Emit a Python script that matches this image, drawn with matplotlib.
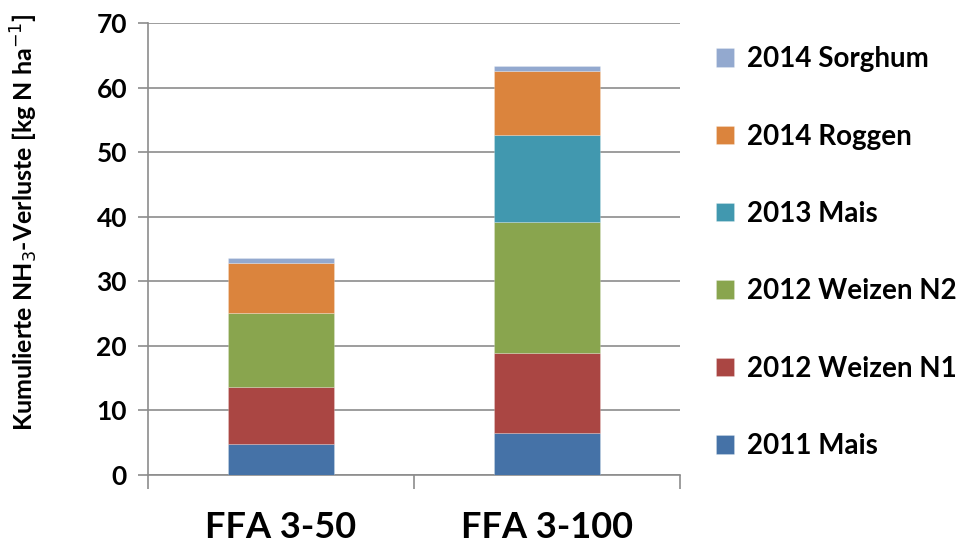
import matplotlib
matplotlib.use("Agg")
import matplotlib.pyplot as plt
import numpy as np

plt.rcParams['font.family'] = ['Lato', 'DejaVu Sans']

# Categories and stacked series (kg N ha-1)
categories = ["FFA 3-50", "FFA 3-100"]
series_names = ["2011 Mais", "2012 Weizen N1", "2012 Weizen N2",
                "2013 Mais", "2014 Roggen", "2014 Sorghum"]
mais_2011 = [4.8, 6.4]
weizen_n1_2012 = [8.8, 12.4]
weizen_n2_2012 = [11.45, 20.4]
mais_2013 = [0.0, 13.45]
roggen_2014 = [7.75, 9.9]
sorghum_2014 = [0.85, 0.85]
colors = ["#4572A7", "#AA4643", "#89A54E", "#4198AF", "#DB843D", "#93A9CF"]

values = [mais_2011, weizen_n1_2012, weizen_n2_2012, mais_2013, roggen_2014, sorghum_2014]

fig = plt.figure(figsize=(9.6, 5.5), dpi=100)
ax = fig.add_axes([0.154, 0.137, 0.554, 0.821])

x = np.arange(len(categories))
bottom = np.zeros(len(categories))
handles = []
for name, vals, col in zip(series_names, values, colors):
    vals = np.array(vals)
    h = ax.bar(x, vals, width=0.4, bottom=bottom, color=col, label=name,
               edgecolor=(1, 1, 1, 0.25), linewidth=0.6, zorder=3)
    handles.append(h)
    bottom += vals

ax.set_xlim(-0.5, 1.5)
ax.set_ylim(0, 70)
ax.set_yticks(np.arange(0, 71, 10))
ax.grid(axis='y', color='#8c8c8c', linewidth=1.2, zorder=0)

for s in ['top', 'right']:
    ax.spines[s].set_visible(False)
for s in ['left', 'bottom']:
    ax.spines[s].set_color('#8c8c8c')
    ax.spines[s].set_linewidth(1.2)

ax.set_xticks(x)
ax.set_xticklabels(categories, fontsize=26)
ax.tick_params(axis='x', which='major', length=0, pad=26)
ax.set_xticks([-0.5, 0.5, 1.5], minor=True)
ax.tick_params(axis='x', which='minor', length=10, width=1.2, color='#8c8c8c')
ax.tick_params(axis='y', length=7, width=1.2, color='#8c8c8c', labelsize=19, pad=8)
for lbl in ax.get_yticklabels():
    lbl.set_fontweight('bold')
for lbl in ax.get_xticklabels():
    lbl.set_fontweight('bold')

ax.set_ylabel("Kumulierte NH$_3$-Verluste [kg N ha$^{-1}$]", fontsize=18,
              fontweight='bold')
ax.yaxis.set_label_coords(-0.203, 0.56)

leg = fig.legend(handles[::-1], series_names[::-1], loc='upper left',
                 bbox_to_anchor=(0.746, 0.916), frameon=False,
                 prop={'size': 20, 'weight': 'bold'}, labelspacing=1.85,
                 handlelength=0.65, handleheight=0.65, handletextpad=0.45,
                 borderpad=0.0, borderaxespad=0.0)

fig.savefig("out.png", dpi=100)
